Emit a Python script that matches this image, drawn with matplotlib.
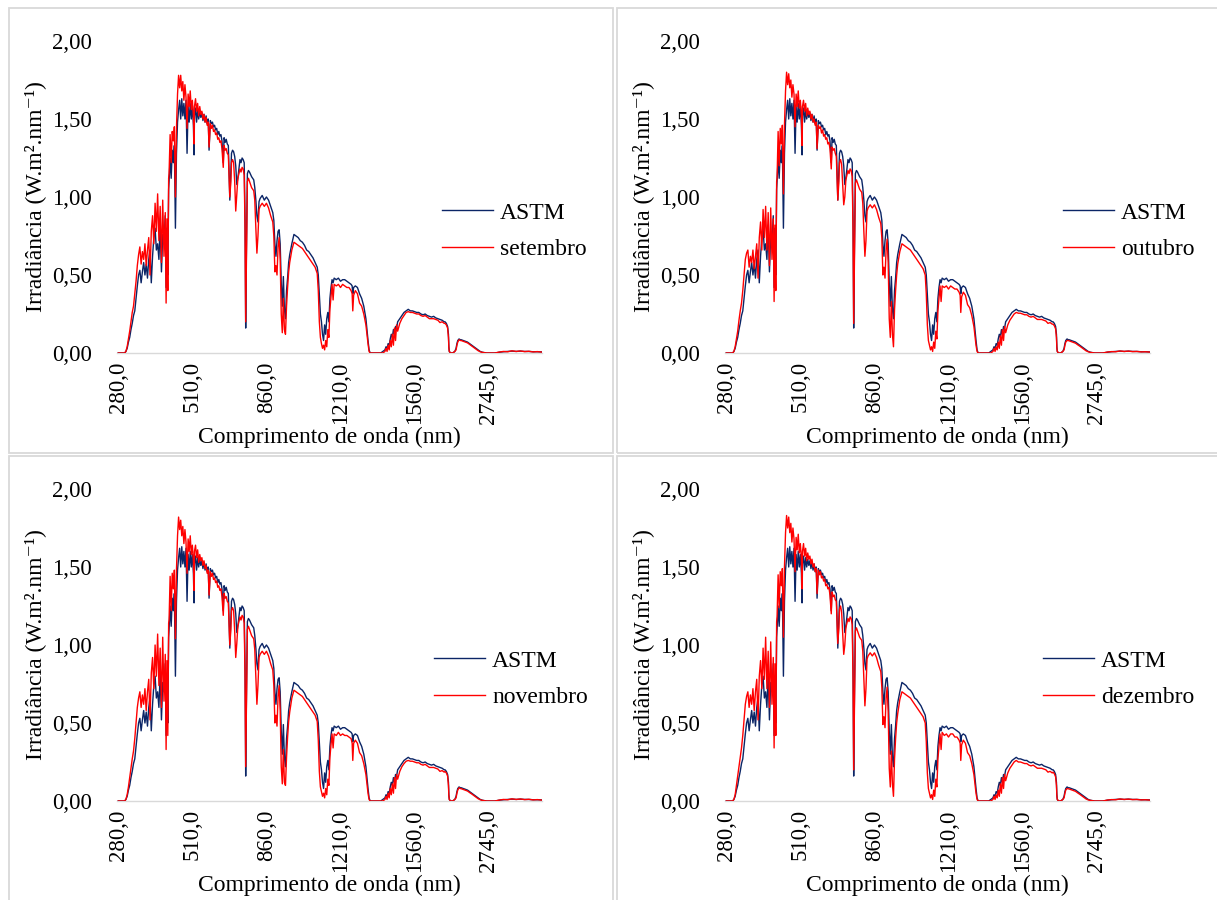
import numpy as np
import matplotlib
matplotlib.use("Agg")
import matplotlib.pyplot as plt
from matplotlib.patches import Rectangle

plt.rcParams['font.family'] = ['Liberation Serif', 'DejaVu Serif']

# ---------------- data (wavelength in nm, irradiance in W.m-2.nm-1) ----------------
wl_uv = [280, 290, 295, 298, 301, 304, 307, 310, 313, 316, 319, 322, 325, 328, 331, 334, 337, 340, 343, 346,
         349, 352, 355, 358, 361, 364, 367, 370, 373, 376, 379, 382, 385, 388, 391, 393, 395, 397, 399]
wl_vis = [400, 405, 410, 415, 420, 425, 430, 435, 440, 445, 450, 455, 460, 465, 470, 475, 480, 485, 490, 495,
          500, 505, 510, 515, 518, 520, 525, 530, 535, 540, 545, 550, 555, 560, 565, 570, 575, 580, 585, 589,
          595, 600, 605, 610, 615, 620, 625, 630, 635, 640, 645, 650, 656, 660, 665, 670, 675, 680, 687, 692,
          695, 700]
wl_nir = [705, 710, 715, 720, 725, 730, 735, 740, 745, 750, 755, 759, 762, 765, 770, 775, 780, 790, 800, 805,
          810, 815, 820, 825, 830, 840, 850, 860, 870, 880, 890, 895, 900, 905, 910, 915, 920, 925, 930, 935,
          940, 945, 950, 955, 960, 965, 970, 980, 990, 1000]
wl_swir1 = [1010, 1020, 1030, 1040, 1050, 1060, 1070, 1080, 1090, 1100, 1105, 1110, 1115, 1120, 1125, 1130,
            1135, 1140, 1145, 1150, 1155, 1160, 1165, 1170, 1175, 1180, 1190, 1200, 1210, 1220, 1230, 1240,
            1250, 1260, 1265, 1268, 1272, 1280, 1290, 1300, 1310, 1320, 1330, 1340, 1345, 1350]
wl_swir2 = [1360, 1380, 1400, 1410, 1420, 1425, 1430, 1435, 1440, 1445, 1450, 1455, 1460, 1465, 1470, 1475,
            1480, 1490, 1500, 1510, 1520, 1530, 1540, 1550, 1560, 1570, 1580, 1590, 1600, 1610, 1620, 1630,
            1640, 1650, 1660, 1670, 1680, 1690, 1700]
wl_ir = [1720, 1750, 1780, 1800, 1810, 1820, 1850, 1900, 1950, 1980, 2000, 2020, 2050, 2080, 2100, 2150, 2200,
         2250, 2300, 2350, 2400, 2450, 2500, 2550, 2600, 2700, 2800, 2900, 3000, 3100, 3200, 3300, 3400, 3500,
         3600, 3700, 3800, 3900, 4000]

# ASTM reference spectrum
astm_uv = [0.00, 0.00, 0.00, 0.01, 0.03, 0.07, 0.10, 0.15, 0.19, 0.24, 0.27, 0.35, 0.43, 0.50, 0.53, 0.45, 0.52,
           0.58, 0.50, 0.57, 0.48, 0.60, 0.66, 0.45, 0.62, 0.74, 0.80, 0.66, 0.70, 0.60, 0.82, 0.52, 0.76, 0.70,
           0.88, 0.42, 0.80, 0.50, 1.05]
astm_vis = [1.10, 1.25, 1.12, 1.30, 1.22, 1.33, 0.80, 1.28, 1.48, 1.56, 1.62, 1.50, 1.63, 1.52, 1.60, 1.50, 1.62,
            1.28, 1.58, 1.48, 1.60, 1.50, 1.58, 1.46, 1.27, 1.52, 1.57, 1.48, 1.56, 1.50, 1.55, 1.51, 1.54, 1.49,
            1.53, 1.48, 1.52, 1.47, 1.50, 1.30, 1.49, 1.47, 1.48, 1.45, 1.46, 1.43, 1.44, 1.40, 1.42, 1.39, 1.40,
            1.36, 1.22, 1.38, 1.35, 1.37, 1.34, 1.33, 0.98, 1.18, 1.28, 1.30]
astm_nir = [1.29, 1.26, 1.20, 1.08, 1.12, 1.18, 1.24, 1.22, 1.25, 1.24, 1.22, 0.85, 0.16, 0.60, 1.15, 1.17, 1.16,
            1.13, 1.11, 1.06, 0.98, 0.88, 0.84, 0.97, 0.99, 1.01, 0.98, 1.00, 0.98, 0.94, 0.90, 0.85, 0.70, 0.62,
            0.72, 0.78, 0.79, 0.70, 0.45, 0.30, 0.49, 0.28, 0.22, 0.40, 0.48, 0.58, 0.63, 0.70, 0.76, 0.75]
astm_swir1 = [0.74, 0.72, 0.71, 0.69, 0.66, 0.65, 0.63, 0.61, 0.58, 0.55, 0.50, 0.38, 0.25, 0.20, 0.12, 0.08,
              0.18, 0.12, 0.22, 0.26, 0.20, 0.35, 0.42, 0.47, 0.45, 0.48, 0.47, 0.48, 0.46, 0.47, 0.47, 0.46,
              0.45, 0.44, 0.43, 0.38, 0.42, 0.43, 0.42, 0.38, 0.35, 0.30, 0.22, 0.08, 0.02, 0.00]
astm_swir2 = [0.00, 0.00, 0.00, 0.01, 0.02, 0.04, 0.03, 0.06, 0.05, 0.09, 0.12, 0.10, 0.15, 0.12, 0.17, 0.16,
              0.20, 0.22, 0.24, 0.26, 0.27, 0.28, 0.27, 0.27, 0.265, 0.26, 0.26, 0.25, 0.245, 0.25, 0.24, 0.235,
              0.23, 0.235, 0.225, 0.22, 0.215, 0.21, 0.20]
astm_ir = [0.20, 0.19, 0.17, 0.12, 0.04, 0.01, 0.00, 0.00, 0.01, 0.03, 0.06, 0.08, 0.09, 0.085, 0.085, 0.08,
           0.075, 0.07, 0.06, 0.05, 0.04, 0.03, 0.02, 0.01, 0.005, 0.00, 0.00, 0.00, 0.005, 0.008, 0.01, 0.012,
           0.01, 0.012, 0.01, 0.01, 0.008, 0.008, 0.007]

# setembro
set_uv = [0.00, 0.00, 0.00, 0.01, 0.04, 0.09, 0.14, 0.20, 0.26, 0.30, 0.38, 0.46, 0.56, 0.63, 0.68, 0.57, 0.65,
          0.60, 0.70, 0.56, 0.66, 0.74, 0.50, 0.78, 0.88, 0.70, 0.96, 0.78, 1.02, 0.72, 0.94, 0.58, 0.98, 0.62,
          0.90, 0.32, 0.86, 0.40, 1.12]
set_vis = [1.15, 1.40, 1.22, 1.42, 1.36, 1.45, 1.00, 1.44, 1.66, 1.78, 1.70, 1.78, 1.68, 1.74, 1.62, 1.72, 1.64,
           1.44, 1.66, 1.58, 1.68, 1.56, 1.62, 1.52, 1.34, 1.58, 1.63, 1.55, 1.60, 1.52, 1.58, 1.53, 1.55, 1.50,
           1.53, 1.48, 1.51, 1.46, 1.48, 1.32, 1.47, 1.44, 1.46, 1.42, 1.43, 1.40, 1.41, 1.37, 1.38, 1.35, 1.36,
           1.31, 1.19, 1.33, 1.30, 1.31, 1.28, 1.27, 1.00, 1.10, 1.22, 1.24]
set_nir = [1.22, 1.10, 0.91, 1.02, 1.12, 1.15, 1.18, 1.16, 1.19, 1.18, 1.14, 0.80, 0.20, 0.55, 1.10, 1.12, 1.10,
           1.06, 1.04, 0.98, 0.80, 0.64, 0.75, 0.92, 0.94, 0.96, 0.94, 0.96, 0.93, 0.88, 0.84, 0.75, 0.52, 0.56,
           0.50, 0.68, 0.74, 0.60, 0.25, 0.13, 0.35, 0.15, 0.12, 0.30, 0.42, 0.52, 0.58, 0.66, 0.71, 0.70]
set_swir1 = [0.69, 0.68, 0.67, 0.65, 0.63, 0.61, 0.59, 0.57, 0.55, 0.51, 0.40, 0.20, 0.10, 0.06, 0.03, 0.05, 0.02,
             0.08, 0.04, 0.15, 0.10, 0.28, 0.36, 0.44, 0.34, 0.44, 0.43, 0.44, 0.42, 0.44, 0.43, 0.42, 0.42, 0.40,
             0.38, 0.27, 0.37, 0.40, 0.38, 0.32, 0.30, 0.25, 0.18, 0.06, 0.01, 0.00]
set_swir2 = [0.00, 0.00, 0.00, 0.00, 0.01, 0.03, 0.01, 0.05, 0.02, 0.08, 0.04, 0.12, 0.05, 0.16, 0.08, 0.18, 0.14,
             0.19, 0.22, 0.24, 0.26, 0.265, 0.26, 0.26, 0.255, 0.25, 0.25, 0.24, 0.235, 0.24, 0.23, 0.22, 0.22,
             0.22, 0.215, 0.21, 0.195, 0.20, 0.19]
set_ir = [0.19, 0.18, 0.16, 0.10, 0.03, 0.01, 0.00, 0.00, 0.01, 0.02, 0.05, 0.07, 0.085, 0.08, 0.08, 0.075, 0.07,
          0.065, 0.055, 0.045, 0.035, 0.025, 0.015, 0.008, 0.004, 0.00, 0.00, 0.00, 0.006, 0.01, 0.008, 0.014,
          0.01, 0.013, 0.009, 0.011, 0.007, 0.009, 0.006]

# outubro
out_uv = [0.00, 0.00, 0.00, 0.01, 0.04, 0.09, 0.14, 0.21, 0.27, 0.32, 0.40, 0.50, 0.60, 0.64, 0.66, 0.55, 0.62,
          0.58, 0.66, 0.54, 0.62, 0.70, 0.48, 0.74, 0.84, 0.66, 0.92, 0.74, 0.94, 0.66, 0.90, 0.56, 0.93, 0.60,
          0.86, 0.33, 0.82, 0.40, 1.10]
out_vis = [1.12, 1.42, 1.20, 1.44, 1.34, 1.46, 1.02, 1.46, 1.68, 1.80, 1.72, 1.79, 1.70, 1.75, 1.64, 1.72, 1.66,
           1.45, 1.66, 1.58, 1.68, 1.57, 1.62, 1.52, 1.33, 1.58, 1.62, 1.55, 1.60, 1.52, 1.57, 1.53, 1.55, 1.50,
           1.53, 1.48, 1.50, 1.46, 1.48, 1.31, 1.46, 1.44, 1.45, 1.41, 1.43, 1.39, 1.40, 1.37, 1.38, 1.34, 1.35,
           1.31, 1.18, 1.32, 1.30, 1.31, 1.28, 1.26, 0.98, 1.10, 1.22, 1.24]
out_nir = [1.21, 1.08, 0.95, 1.00, 1.11, 1.14, 1.17, 1.15, 1.18, 1.17, 1.13, 0.78, 0.19, 0.52, 1.09, 1.11, 1.09,
           1.05, 1.03, 0.96, 0.78, 0.62, 0.72, 0.91, 0.93, 0.95, 0.93, 0.95, 0.92, 0.87, 0.83, 0.74, 0.50, 0.55,
           0.48, 0.66, 0.73, 0.58, 0.22, 0.10, 0.33, 0.12, 0.04, 0.28, 0.40, 0.50, 0.57, 0.65, 0.70, 0.69]
out_swir1 = [0.68, 0.67, 0.66, 0.64, 0.62, 0.60, 0.58, 0.56, 0.54, 0.50, 0.38, 0.18, 0.08, 0.05, 0.02, 0.04, 0.01,
             0.07, 0.03, 0.14, 0.09, 0.27, 0.35, 0.43, 0.33, 0.43, 0.42, 0.43, 0.41, 0.43, 0.42, 0.41, 0.41, 0.39,
             0.37, 0.26, 0.36, 0.39, 0.37, 0.31, 0.29, 0.24, 0.17, 0.05, 0.01, 0.00]
out_swir2 = [0.00, 0.00, 0.00, 0.00, 0.01, 0.03, 0.01, 0.04, 0.02, 0.07, 0.03, 0.11, 0.05, 0.15, 0.08, 0.17, 0.13,
             0.18, 0.21, 0.23, 0.25, 0.26, 0.255, 0.255, 0.25, 0.245, 0.245, 0.235, 0.23, 0.235, 0.225, 0.215,
             0.215, 0.215, 0.21, 0.205, 0.19, 0.195, 0.185]
out_ir = [0.185, 0.175, 0.155, 0.10, 0.03, 0.01, 0.00, 0.00, 0.01, 0.02, 0.05, 0.07, 0.08, 0.08, 0.078, 0.073,
          0.068, 0.063, 0.053, 0.044, 0.034, 0.024, 0.014, 0.008, 0.004, 0.00, 0.00, 0.00, 0.006, 0.009, 0.008,
          0.013, 0.01, 0.012, 0.009, 0.01, 0.007, 0.008, 0.006]

# novembro
nov_uv = [0.00, 0.00, 0.00, 0.01, 0.04, 0.09, 0.15, 0.21, 0.27, 0.32, 0.40, 0.50, 0.60, 0.66, 0.70, 0.60, 0.68,
          0.62, 0.72, 0.58, 0.70, 0.78, 0.52, 0.82, 0.92, 0.72, 1.00, 0.80, 1.07, 0.74, 0.98, 0.60, 1.05, 0.64,
          0.94, 0.33, 0.90, 0.42, 1.14]
nov_vis = [1.16, 1.44, 1.22, 1.46, 1.36, 1.48, 1.04, 1.48, 1.70, 1.82, 1.74, 1.80, 1.70, 1.76, 1.65, 1.74, 1.66,
           1.46, 1.68, 1.60, 1.70, 1.58, 1.64, 1.54, 1.35, 1.60, 1.64, 1.56, 1.61, 1.53, 1.58, 1.54, 1.56, 1.51,
           1.54, 1.49, 1.51, 1.46, 1.48, 1.32, 1.47, 1.44, 1.46, 1.42, 1.43, 1.40, 1.41, 1.37, 1.38, 1.35, 1.36,
           1.31, 1.19, 1.33, 1.30, 1.31, 1.28, 1.27, 1.00, 1.10, 1.22, 1.24]
nov_nir = [1.22, 1.09, 0.92, 1.01, 1.12, 1.15, 1.18, 1.16, 1.19, 1.18, 1.14, 0.80, 0.22, 0.56, 1.10, 1.12, 1.10,
           1.06, 1.04, 0.97, 0.80, 0.62, 0.74, 0.92, 0.94, 0.96, 0.94, 0.96, 0.93, 0.88, 0.84, 0.74, 0.50, 0.55,
           0.48, 0.67, 0.74, 0.58, 0.22, 0.11, 0.33, 0.12, 0.10, 0.28, 0.41, 0.51, 0.57, 0.66, 0.71, 0.70]
nov_swir1 = [0.69, 0.68, 0.67, 0.65, 0.63, 0.61, 0.59, 0.57, 0.55, 0.51, 0.39, 0.19, 0.09, 0.06, 0.03, 0.05, 0.02,
             0.08, 0.04, 0.14, 0.10, 0.28, 0.36, 0.43, 0.34, 0.43, 0.42, 0.44, 0.42, 0.43, 0.42, 0.42, 0.41, 0.40,
             0.37, 0.26, 0.37, 0.39, 0.37, 0.31, 0.29, 0.24, 0.17, 0.05, 0.01, 0.00]
nov_swir2 = [0.00, 0.00, 0.00, 0.00, 0.01, 0.03, 0.01, 0.05, 0.02, 0.08, 0.04, 0.11, 0.05, 0.15, 0.08, 0.17, 0.14,
             0.19, 0.22, 0.24, 0.255, 0.26, 0.255, 0.255, 0.25, 0.245, 0.245, 0.235, 0.23, 0.235, 0.225, 0.215,
             0.215, 0.215, 0.21, 0.205, 0.19, 0.195, 0.185]
nov_ir = [0.19, 0.18, 0.16, 0.10, 0.03, 0.01, 0.00, 0.00, 0.01, 0.02, 0.05, 0.07, 0.085, 0.08, 0.079, 0.074,
          0.069, 0.064, 0.054, 0.045, 0.035, 0.025, 0.015, 0.008, 0.004, 0.00, 0.00, 0.00, 0.006, 0.01, 0.008,
          0.014, 0.01, 0.013, 0.009, 0.011, 0.007, 0.009, 0.006]

# dezembro
dez_uv = [0.00, 0.00, 0.00, 0.01, 0.04, 0.10, 0.16, 0.22, 0.28, 0.34, 0.42, 0.52, 0.62, 0.67, 0.70, 0.60, 0.68,
          0.62, 0.72, 0.58, 0.70, 0.78, 0.52, 0.80, 0.90, 0.72, 0.98, 0.78, 1.05, 0.72, 0.96, 0.60, 1.02, 0.62,
          0.92, 0.34, 0.88, 0.42, 1.15]
dez_vis = [1.18, 1.45, 1.24, 1.47, 1.38, 1.49, 1.05, 1.50, 1.72, 1.83, 1.75, 1.82, 1.72, 1.78, 1.66, 1.75, 1.68,
           1.47, 1.69, 1.61, 1.71, 1.59, 1.65, 1.55, 1.36, 1.60, 1.65, 1.57, 1.62, 1.54, 1.59, 1.55, 1.57, 1.52,
           1.55, 1.50, 1.52, 1.47, 1.49, 1.33, 1.48, 1.45, 1.47, 1.43, 1.44, 1.41, 1.42, 1.38, 1.39, 1.36, 1.37,
           1.32, 1.20, 1.34, 1.31, 1.32, 1.29, 1.28, 1.01, 1.11, 1.23, 1.25]
dez_nir = [1.21, 1.08, 0.94, 1.00, 1.11, 1.14, 1.17, 1.15, 1.18, 1.17, 1.13, 0.78, 0.20, 0.53, 1.09, 1.11, 1.09,
           1.05, 1.03, 0.96, 0.78, 0.61, 0.72, 0.91, 0.93, 0.95, 0.93, 0.95, 0.92, 0.87, 0.83, 0.73, 0.49, 0.54,
           0.47, 0.66, 0.73, 0.57, 0.21, 0.09, 0.32, 0.11, 0.03, 0.27, 0.40, 0.50, 0.56, 0.65, 0.70, 0.69]
dez_swir1 = [0.68, 0.67, 0.66, 0.64, 0.62, 0.60, 0.58, 0.56, 0.54, 0.50, 0.38, 0.18, 0.08, 0.05, 0.02, 0.04, 0.01,
             0.07, 0.03, 0.14, 0.09, 0.27, 0.35, 0.43, 0.33, 0.44, 0.42, 0.43, 0.41, 0.43, 0.43, 0.41, 0.41, 0.39,
             0.37, 0.26, 0.36, 0.39, 0.37, 0.31, 0.29, 0.24, 0.17, 0.05, 0.01, 0.00]
dez_swir2 = [0.00, 0.00, 0.00, 0.00, 0.01, 0.03, 0.01, 0.04, 0.02, 0.07, 0.03, 0.11, 0.05, 0.15, 0.08, 0.17, 0.13,
             0.18, 0.21, 0.23, 0.25, 0.26, 0.25, 0.25, 0.245, 0.24, 0.24, 0.23, 0.225, 0.23, 0.22, 0.21, 0.21,
             0.21, 0.205, 0.20, 0.185, 0.19, 0.18]
dez_ir = [0.185, 0.175, 0.155, 0.10, 0.03, 0.01, 0.00, 0.00, 0.01, 0.02, 0.05, 0.07, 0.08, 0.078, 0.077, 0.072,
          0.067, 0.062, 0.052, 0.043, 0.033, 0.023, 0.013, 0.007, 0.004, 0.00, 0.00, 0.00, 0.006, 0.009, 0.008,
          0.013, 0.01, 0.012, 0.009, 0.01, 0.007, 0.008, 0.006]

month_names = ["setembro", "outubro", "novembro", "dezembro"]
tick_wl = [280, 510, 860, 1210, 1560, 2745]
y_ticks = [0.0, 0.5, 1.0, 1.5, 2.0]

wavelength = wl_uv + wl_vis + wl_nir + wl_swir1 + wl_swir2 + wl_ir
astm = astm_uv + astm_vis + astm_nir + astm_swir1 + astm_swir2 + astm_ir
months = [
    set_uv + set_vis + set_nir + set_swir1 + set_swir2 + set_ir,
    out_uv + out_vis + out_nir + out_swir1 + out_swir2 + out_ir,
    nov_uv + nov_vis + nov_nir + nov_swir1 + nov_swir2 + nov_ir,
    dez_uv + dez_vis + dez_nir + dez_swir1 + dez_swir2 + dez_ir,
]


# category-style axis of the spreadsheet (0.5 nm steps to 400, 1 nm to 1700, 5 nm after)
def wl_to_cat(w):
    w = np.asarray(w, dtype=float)
    return np.where(w <= 400, (w - 280) * 2.0,
                    np.where(w <= 1700, 240 + (w - 400), 1540 + (w - 1700) / 5.0))


def cat_to_wl(c):
    c = np.asarray(c, dtype=float)
    return np.where(c <= 240, 280 + c / 2.0,
                    np.where(c <= 1540, 400 + (c - 240), 1700 + (c - 1540) * 5.0))


W, H = 1217, 900
fig = plt.figure(figsize=(W / 100, H / 100), dpi=100)
fig.patch.set_facecolor('white')

border = '#D9D9D9'
# panel frames (pixels: x0, y0_top, x1, y1_bottom)
frames = [(8.5, 8.5, 612.5, 453), (617, 8.5, 1222, 453), (8.5, 456, 612.5, 905), (617, 456, 1222, 905)]
for (x0, y0, x1, y1) in frames:
    fig.patches.append(Rectangle((x0 / W, 1 - y1 / H), (x1 - x0) / W, (y1 - y0) / H,
                                 transform=fig.transFigure, fill=False, edgecolor=border, lw=1.3))

# axes positions in pixels: left, top, right, bottom
ax_px = [(117, 41, 542, 353), (725, 41, 1150, 353), (117, 489, 542, 801), (725, 489, 1150, 801)]
legend_px = [(442, 231), (1063, 231), (434, 679), (1043, 679)]

fs = 16.5
for k in range(4):
    l, t, r, b = ax_px[k]
    ax = fig.add_axes([l / W, 1 - b / H, (r - l) / W, (b - t) / H])
    ax.set_xscale('function', functions=(wl_to_cat, cat_to_wl))
    ax.plot(wavelength, astm, color='#0B2566', lw=1.0, label='ASTM', zorder=3)
    ax.plot(wavelength, months[k], color='#FF0000', lw=1.0, label=month_names[k], zorder=4)
    ax.set_xlim(277, 4010)
    ax.set_ylim(0, 2.0)
    ax.set_xticks(tick_wl)
    ax.set_xticklabels([f"{v:.1f}".replace('.', ',') for v in tick_wl], rotation=90, fontsize=fs)
    ax.xaxis.set_minor_locator(matplotlib.ticker.NullLocator())
    ax.set_yticks(y_ticks)
    ax.set_yticklabels([f"{v:.2f}".replace('.', ',') for v in y_ticks], fontsize=fs)
    ax.tick_params(axis='x', length=0, pad=6)
    ax.tick_params(axis='y', length=0, pad=18)
    for s in ['left', 'top', 'right']:
        ax.spines[s].set_visible(False)
    ax.spines['bottom'].set_color(border)
    ax.spines['bottom'].set_linewidth(1.0)
    ax.spines['bottom'].set_zorder(2)
    ax.set_facecolor('none')

    ax.set_xlabel('Comprimento de onda (nm)', fontsize=17)
    ax.xaxis.label.set_va('center')
    ax.xaxis.set_label_coords(0.5, -(437 - 353) / 312)
    ax.set_ylabel('Irradiância (W.m².nm⁻¹)', fontsize=17)
    ax.yaxis.label.set_va('center')
    ax.yaxis.set_label_coords(-(117 - 35) / 425, 0.5)

    lx, ly = legend_px[k]
    ax.legend(loc='center left', bbox_to_anchor=(lx / W, 1 - ly / H), bbox_transform=fig.transFigure,
              frameon=False, borderpad=0, borderaxespad=0, handlelength=2.16, handletextpad=0.3,
              labelspacing=0.62, fontsize=17)

fig.savefig('out.png', dpi=100, facecolor='white')
